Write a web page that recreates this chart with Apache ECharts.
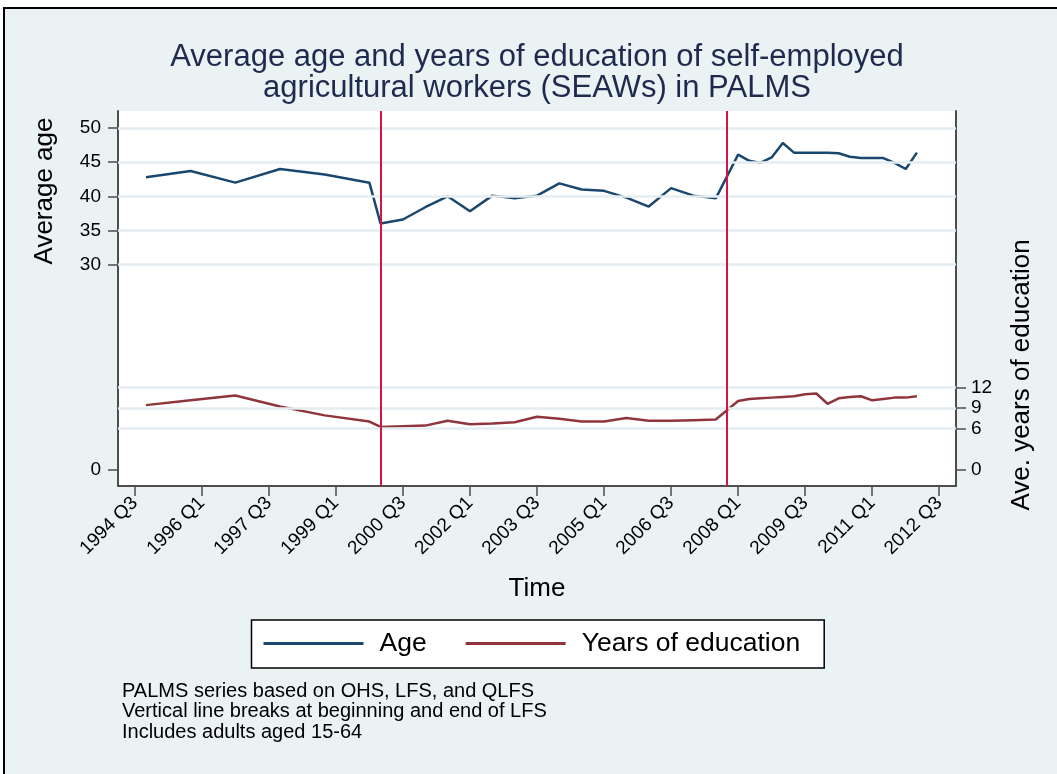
<!DOCTYPE html>
<html>
<head>
<meta charset="utf-8">
<script src="https://cdn.jsdelivr.net/npm/echarts@6/dist/echarts.min.js"></script>
<style>
  html, body { margin: 0; padding: 0; background: #ffffff; }
  #chart { width: 1057px; height: 774px; }
</style>
</head>
<body>
<div id="chart"></div>
<script>
// ---------------- data ----------------
const periods = [
  "1994 Q4", "1995 Q4", "1996 Q4", "1997 Q4", "1998 Q4", "1999 Q4",
  "2000 Q1", "2000 Q3", "2001 Q1", "2001 Q3", "2002 Q1", "2002 Q3",
  "2003 Q1", "2003 Q3", "2004 Q1", "2004 Q3", "2005 Q1", "2005 Q3",
  "2006 Q1", "2006 Q3", "2007 Q1", "2007 Q3",
  "2008 Q1", "2008 Q2", "2008 Q3", "2008 Q4", "2009 Q1", "2009 Q2",
  "2009 Q3", "2009 Q4", "2010 Q1", "2010 Q2", "2010 Q3", "2010 Q4",
  "2011 Q1", "2011 Q2", "2011 Q3", "2011 Q4", "2012 Q1"
];
const ageValues = [
  42.8, 43.7, 42.0, 44.0, 43.2, 42.0,
  36.0, 36.6, 38.4, 40.0, 37.8, 40.1,
  39.7, 40.1, 41.9, 41.0, 40.8, 39.8,
  38.5, 41.2, 40.1, 39.7,
  46.1, 45.2, 44.9, 45.7, 47.8, 46.4,
  46.4, 46.4, 46.4, 46.3, 45.8, 45.6,
  45.6, 45.6, 44.9, 44.0, 46.4
];
const eduValues = [
  9.4, 10.1, 10.8, 9.2, 7.9, 7.0,
  6.2, 6.3, 6.4, 7.1, 6.6, 6.7,
  6.9, 7.7, 7.4, 7.0, 7.0, 7.5,
  7.1, 7.1, 7.2, 7.3,
  10.0, 10.3, 10.4, 10.5, 10.6, 10.7,
  11.0, 11.1, 9.6, 10.4, 10.6, 10.7,
  10.1, 10.3, 10.5, 10.5, 10.7
];
const xTickLabels = ["1994 Q3", "1996 Q1", "1997 Q3", "1999 Q1", "2000 Q3", "2002 Q1",
  "2003 Q3", "2005 Q1", "2006 Q3", "2008 Q1", "2009 Q3", "2011 Q1", "2012 Q3"];
const ageTicks = [0, 30, 35, 40, 45, 50];
const eduTicks = [0, 6, 9, 12];
const ageGridValues = [30, 35, 40, 45, 50];
const eduGridValues = [6, 9, 12];
const breakPeriods = ["2000 Q1", "2007 Q4"];
const notes = [
  "PALMS series based on OHS, LFS, and QLFS",
  "Vertical line breaks at beginning and end of LFS",
  "Includes adults aged 15-64"
];

// ---------------- helpers ----------------
const BASE_YEAR = 1994, BASE_Q = 3;
function toIndex(p) {
  const parts = p.split(" Q");
  return (parseInt(parts[0], 10) - BASE_YEAR) * 4 + (parseInt(parts[1], 10) - BASE_Q);
}
function toLabel(i) {
  const t = Math.round(i) + (BASE_Q - 1);
  return (BASE_YEAR + Math.floor(t / 4)) + " Q" + ((t % 4) + 1);
}
const FONT = "'Liberation Sans', Arial, Helvetica, sans-serif";
const AXIS_COLOR = '#4d4d4d';
const GRID_COLOR = '#e4edf0';
const Y_MIN = -2.45, Y_MAX = 52.5;

const ageData = periods.map((p, i) => [toIndex(p), ageValues[i]]);
const eduData = periods.map((p, i) => [toIndex(p), eduValues[i]]);

const chart = echarts.init(document.getElementById('chart'), null, { renderer: 'canvas' });

const option = {
  animation: false,
  backgroundColor: '#ffffff',
  textStyle: { fontFamily: FONT },
  title: {
    text: "Average age and years of education of self-employed\nagricultural workers (SEAWs) in PALMS",
    left: 537,
    textAlign: 'center',
    top: 42,
    padding: 0,
    textStyle: { fontSize: 31, fontWeight: 'normal', color: '#1e2b4f', lineHeight: 31, fontFamily: FONT, align: 'center' }
  },
  graphic: [
    {
      type: 'rect', z: -10, silent: true,
      shape: { x: 4, y: 8, width: 1200, height: 900 },
      style: { fill: '#eaf2f3', stroke: '#000000', lineWidth: 2 }
    },
    {
      type: 'text', x: 45, y: 191, rotation: Math.PI / 2, silent: true,
      style: { text: 'Average age', font: '26px ' + FONT, fill: '#000', align: 'center', verticalAlign: 'middle', textAlign: 'center', textVerticalAlign: 'middle' }
    },
    {
      type: 'text', x: 1022, y: 375, rotation: Math.PI / 2, silent: true,
      style: { text: 'Ave. years of education', font: '26px ' + FONT, fill: '#000', align: 'center', verticalAlign: 'middle', textAlign: 'center', textVerticalAlign: 'middle' }
    },
    {
      type: 'text', left: 122, top: 681, silent: true,
      style: { text: notes.join('\n'), font: '20px ' + FONT, fill: '#000', lineHeight: 20.5 }
    }
  ],
  grid: {
    left: 118, right: 101, top: 111, bottom: 288,
    show: true, backgroundColor: '#ffffff', borderWidth: 0,
    containLabel: false
  },
  legend: {
    left: 251.5, top: 620,
    orient: 'horizontal',
    icon: 'rect',
    itemWidth: 100, itemHeight: 3, itemGap: 39,
    padding: [10, 24, 11, 12],
    backgroundColor: '#ffffff', borderColor: '#000000', borderWidth: 1.5, borderRadius: 0,
    textStyle: { fontSize: 26.5, color: '#000', fontFamily: FONT, padding: [0, 0, 0, 11] },
    data: ['Age', 'Years of education']
  },
  xAxis: {
    type: 'value',
    min: -1.5, max: 73.5,
    name: 'Time', nameLocation: 'middle', nameGap: 90,
    nameTextStyle: { fontSize: 26, color: '#000', fontFamily: FONT },
    axisLine: { show: true, onZero: false, lineStyle: { color: AXIS_COLOR, width: 2 } },
    axisTick: { show: true, length: 10, lineStyle: { color: AXIS_COLOR, width: 1.5 }, customValues: xTickLabels.map(toIndex) },
    axisLabel: { rotate: 45, fontSize: 19, color: '#000', margin: 14, fontFamily: FONT, customValues: xTickLabels.map(toIndex), formatter: v => toLabel(v) },
    splitLine: { show: false }
  },
  yAxis: [
    {
      type: 'value', position: 'left', min: Y_MIN, max: Y_MAX,
      axisLine: { show: true, onZero: false, lineStyle: { color: AXIS_COLOR, width: 2 } },
      axisTick: { show: true, length: 10, lineStyle: { color: AXIS_COLOR, width: 1.5 }, customValues: ageTicks },
      axisLabel: { fontSize: 19, color: '#000', margin: 17, fontFamily: FONT, customValues: ageTicks },
      splitLine: { show: false }
    },
    {
      type: 'value', position: 'right', min: Y_MIN, max: Y_MAX,
      axisLine: { show: true, onZero: false, lineStyle: { color: AXIS_COLOR, width: 2 } },
      axisTick: { show: true, length: 10, lineStyle: { color: AXIS_COLOR, width: 1.5 }, customValues: eduTicks },
      axisLabel: { fontSize: 19, color: '#000', margin: 15, fontFamily: FONT, customValues: eduTicks },
      splitLine: { show: false }
    }
  ],
  series: [
    {
      name: 'gridAge', type: 'line', data: [], yAxisIndex: 0, z: 1, silent: true,
      markLine: {
        silent: true, symbol: ['none', 'none'], label: { show: false }, animation: false,
        lineStyle: { type: 'solid', color: GRID_COLOR, width: 2.5 },
        data: ageGridValues.map(v => ({ yAxis: v }))
      }
    },
    {
      name: 'gridEdu', type: 'line', data: [], yAxisIndex: 1, z: 1, silent: true,
      markLine: {
        silent: true, symbol: ['none', 'none'], label: { show: false }, animation: false,
        lineStyle: { type: 'solid', color: GRID_COLOR, width: 2.5 },
        data: eduGridValues.map(v => ({ yAxis: v }))
      }
    },
    {
      name: 'Age', type: 'line', data: ageData, yAxisIndex: 0, z: 3,
      showSymbol: false, symbol: 'none',
      color: '#1a476f',
      lineStyle: { color: '#1a476f', width: 2.5 },
      itemStyle: { color: '#1a476f' }
    },
    {
      name: 'Years of education', type: 'line', data: eduData, yAxisIndex: 1, z: 3,
      showSymbol: false, symbol: 'none',
      color: '#90353b',
      lineStyle: { color: '#90353b', width: 2.5 },
      itemStyle: { color: '#90353b' }
    },
    {
      name: 'breaks', type: 'line', data: [], yAxisIndex: 0, z: 5, silent: true,
      markLine: {
        silent: true, symbol: ['none', 'none'], label: { show: false }, animation: false,
        lineStyle: { type: 'solid', color: '#d3163f', width: 2 },
        data: breakPeriods.map(p => ({ xAxis: toIndex(p) }))
      }
    }
  ]
};
chart.setOption(option);
</script>
</body>
</html>
